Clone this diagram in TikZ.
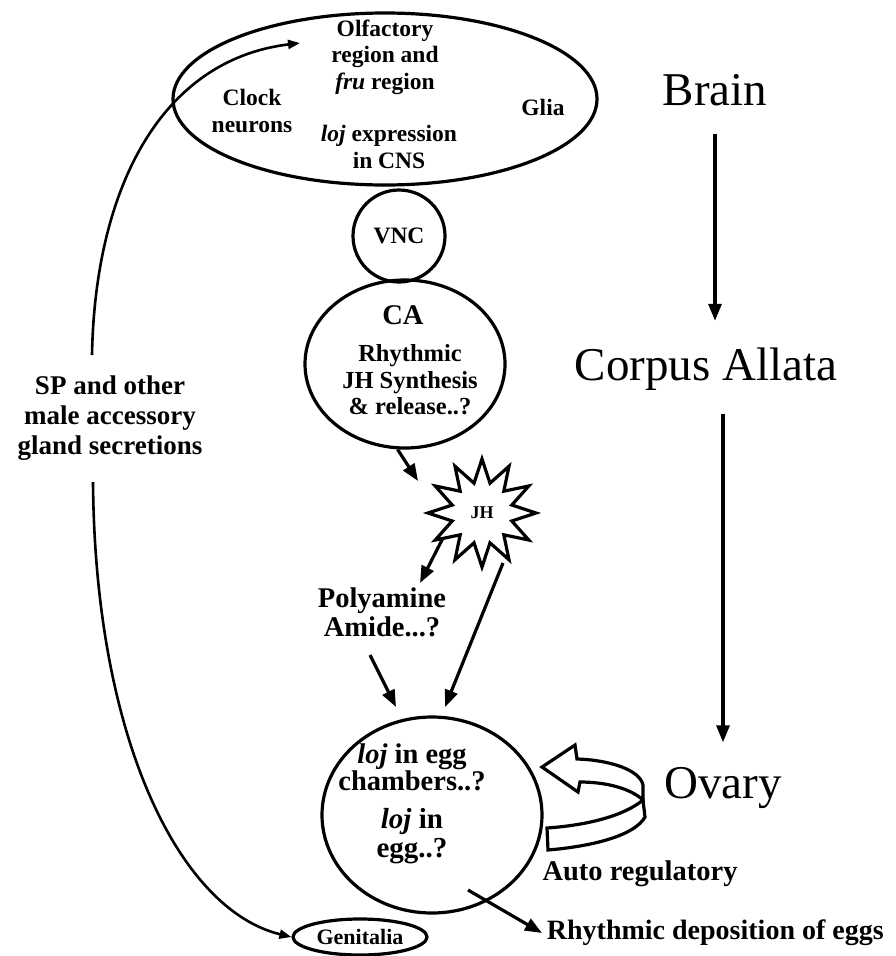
\documentclass[tikz,border=0pt]{standalone}
\usepackage{fontspec}
\setmainfont{Liberation Serif}
\usetikzlibrary{calc}
\usetikzlibrary{positioning}
\usetikzlibrary{arrows.meta}
\usetikzlibrary{shapes.geometric}

\begin{document}
\begin{tikzpicture}[x=1pt,y=-1pt,line width=3.2pt,every node/.style = {align=center},
organ/.style={draw,ellipse,inner sep=0pt},
lbl/.style={font=\bfseries\fontsize{23.5}{26.5}\selectfont},
biglbl/.style={font=\bfseries\fontsize{28.5}{29}\selectfont},
stage/.style={font=\fontsize{47}{50}\selectfont,inner sep=0pt},
arr/.style={-{Triangle[length=17pt,width=13pt]}},
thinarr/.style={line width=2.6pt,-{Triangle[length=12pt,width=9pt]}}]
\useasboundingbox (0,0) rectangle (895,956);
\node [organ, minimum width=424pt, minimum height=172pt] (brain) at (385,99) {};
\node [lbl] (olf) at (385,57) {Olfactory\\region and\\\textit{fru} region};
\node [lbl] (clock) at (252,111) {Clock\\neurons};
\node [lbl] (lojcns) at (389,147) {\textit{loj} expression\\in CNS};
\node [lbl] (glia) at (543,107) {Glia};
\node [organ, circle, minimum size=92pt, lbl] (vnc) at (399,236) {VNC};
\node [organ, minimum width=200pt, minimum height=168pt] (ca) at (405,364) {};
\node [biglbl] (catitle) at (403,315) {CA};
\node [lbl, font=\bfseries\fontsize{24.5}{26.5}\selectfont] (jhsyn) at (410,380) {Rhythmic\\JH Synthesis\\\& release..?};
\node [draw, star, star points=12, star point ratio=1.75, minimum size=108pt, inner sep=0pt,
    font=\bfseries\fontsize{18}{18}\selectfont] (jh) at (482,513) {JH};
\node [biglbl] (poly) at (382,612) {Polyamine\\Amide...?};
\node [organ, minimum width=220pt, minimum height=196pt] (egg) at (432,815) {};
\node [biglbl, font=\bfseries\fontsize{28.5}{27}\selectfont] (eggch) at (412,767) {\textit{loj} in egg\\chambers..?};
\node [biglbl, font=\bfseries\fontsize{29}{29}\selectfont] (eggin) at (412,836) {\textit{loj} in\\egg..?};
\node [organ, minimum width=134pt, minimum height=36pt, font=\bfseries\fontsize{22}{22}\selectfont] (gen) at (360,937) {Genitalia};
\node [lbl, font=\bfseries\fontsize{27}{30}\selectfont] (sp) at (110,418) {SP and other\\male accessory\\gland secretions};
\node [stage, anchor=base] (brainlbl) at (715,105) {Brain};
\node [stage, anchor=base] (calbl) at (706,380) {Corpus Allata};
\node [stage, anchor=base] (ovary) at (723,798) {Ovary};
\node [biglbl] (auto) at (640,874) {Auto regulatory};
\node [biglbl, font=\bfseries\fontsize{28}{30}\selectfont, anchor=west] (rhythm) at (542,933) {Rhythmic deposition of eggs};

\coordinate (brainin) at (300,43);
\coordinate (sptop) at (92,355);
\coordinate (spbot) at (93,482);
\coordinate (jhin) at (418,481);
\coordinate (jhout1) at (443,538);
\coordinate (jhout2) at (503,563);
\coordinate (polyin) at (420,583);
\coordinate (polyout) at (370,655);
\coordinate (eggin1) at (396,707);
\coordinate (eggin2) at (445,707);
\coordinate (eggout) at (468,890);

\draw [arr, shorten <=27pt, shorten >=25pt] (brainlbl.south) -- (brainlbl.south |- calbl.north);
\draw [arr, shorten <=22pt, shorten >=23pt] (ovary.north |- calbl.south) -- (ovary.north);
\draw [arr] (ca.-95) -- (jhin);
\draw [arr] (jhout1) -- (polyin);
\draw [arr] (polyout) -- (eggin1);
\draw [arr] (jhout2) -- (eggin2);
\draw [arr] (eggout) -- (rhythm.west);
\draw [thinarr] (sptop) .. controls (95,190) and (160,60) .. (brainin);
\draw [thinarr] (spbot) .. controls (95,740) and (180,910) .. (gen.west);
\draw [fill=white] (542,767) -- (575,745) -- (577,759) .. controls (610,760) and (640,770) .. (643,785)
    -- (643,800) .. controls (630,788) and (605,782) .. (580,782) -- (578,792) -- cycle;
\draw [fill=white] (643,800) .. controls (625,815) and (590,825) .. (547,828) -- (548,850)
    .. controls (595,846) and (635,835) .. (645,817) -- cycle;
\end{tikzpicture}
\end{document}
